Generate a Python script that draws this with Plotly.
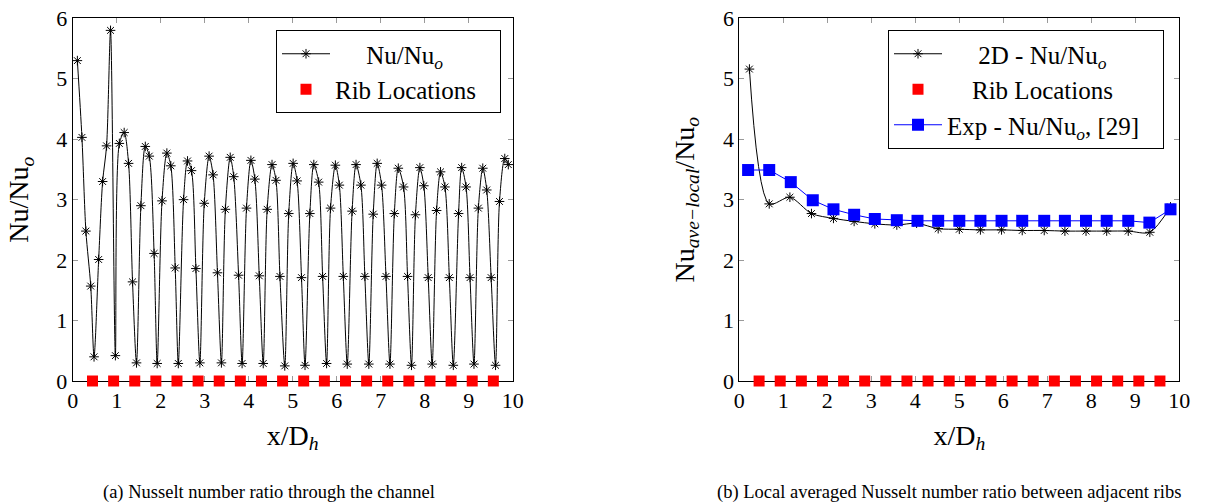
import plotly.graph_objects as go
from plotly.subplots import make_subplots

# ---- data: (a) Nusselt number ratio through the channel ----
x_a = [0.106, 0.21, 0.30, 0.41, 0.485, 0.59, 0.68, 0.77, 0.86, 0.97,
       1.06, 1.17, 1.27, 1.36, 1.45, 1.55, 1.65, 1.74, 1.85, 1.92,
       2.03, 2.14, 2.23, 2.33, 2.40, 2.52, 2.61, 2.70, 2.80, 2.89,
       2.99, 3.10, 3.19, 3.29, 3.38, 3.47, 3.58, 3.66, 3.77, 3.85,
       3.95, 4.05, 4.14, 4.24, 4.33, 4.42, 4.53, 4.62, 4.71, 4.82,
       4.91, 5.01, 5.10, 5.20, 5.28, 5.39, 5.48, 5.59, 5.68, 5.77,
       5.86, 5.97, 6.06, 6.15, 6.24, 6.35, 6.44, 6.55, 6.64, 6.73,
       6.83, 6.92, 7.02, 7.12, 7.21, 7.31, 7.40, 7.52, 7.61, 7.70,
       7.79, 7.89, 7.98, 8.08, 8.17, 8.27, 8.36, 8.46, 8.56, 8.65,
       8.77, 8.84, 8.94, 9.03, 9.12, 9.22, 9.32, 9.41, 9.51, 9.61,
       9.70, 9.82, 9.90]
nu_a = [5.30, 4.03, 2.48, 1.57, 0.40, 2.01, 3.30, 3.89, 5.80, 0.42,
        3.93, 4.11, 3.60, 1.64, 0.30, 2.90, 3.88, 3.72, 2.11, 0.29,
        2.98, 3.77, 3.56, 1.87, 0.29, 3.00, 3.64, 3.48, 1.86, 0.30,
        2.94, 3.72, 3.41, 1.79, 0.30, 2.84, 3.70, 3.38, 1.75, 0.29,
        2.86, 3.65, 3.34, 1.74, 0.29, 2.84, 3.58, 3.32, 1.73, 0.25,
        2.77, 3.60, 3.31, 1.71, 0.26, 2.77, 3.58, 3.29, 1.73, 0.29,
        2.86, 3.57, 3.24, 1.73, 0.28, 2.81, 3.58, 3.24, 1.73, 0.28,
        2.76, 3.60, 3.24, 1.73, 0.28, 2.77, 3.52, 3.21, 1.73, 0.26,
        2.75, 3.53, 3.23, 1.71, 0.28, 2.82, 3.46, 3.21, 1.71, 0.26,
        2.77, 3.53, 3.21, 1.71, 0.28, 2.86, 3.52, 3.16, 1.71, 0.26,
        2.97, 3.68, 3.58]

rib_x = [0.45, 0.93, 1.41, 1.89, 2.37, 2.85, 3.33, 3.81, 4.29, 4.77,
         5.25, 5.72, 6.20, 6.68, 7.16, 7.64, 8.12, 8.60, 9.08, 9.56]
rib_y = [0] * len(rib_x)

# ---- data: (b) Local averaged Nusselt number ratio ----
x_2d = [0.23, 0.68, 1.15, 1.64, 2.14, 2.61, 3.08, 3.58, 4.03, 4.52, 5.00,
        5.48, 5.96, 6.43, 6.93, 7.40, 7.88, 8.35, 8.84, 9.33, 9.80]
nu_2d = [5.16, 2.93, 3.04, 2.77, 2.69, 2.64, 2.60, 2.58, 2.61, 2.52, 2.51,
         2.50, 2.50, 2.49, 2.49, 2.48, 2.48, 2.48, 2.48, 2.46, 2.88]
x_exp = [0.20, 0.68, 1.17, 1.67, 2.14, 2.61, 3.08, 3.58, 4.05, 4.52, 5.00,
         5.48, 5.96, 6.43, 6.93, 7.40, 7.88, 8.35, 8.84, 9.32, 9.80]
nu_exp = [3.49, 3.49, 3.29, 2.99, 2.84, 2.75, 2.68, 2.66, 2.65, 2.65, 2.65,
          2.65, 2.65, 2.65, 2.65, 2.65, 2.65, 2.65, 2.65, 2.62, 2.84]

x_ticks = list(range(0, 11))
y_ticks = list(range(0, 7))
caption_a = "(a) Nusselt number ratio through the channel"
caption_b = "(b) Local averaged Nusselt number ratio between adjacent ribs"

FONT = "Liberation Serif"
NB = "\u00a0"
W, H = 1207, 504

fig = make_subplots(rows=1, cols=2)

star = dict(symbol="asterisk-open", size=8, color="black", line=dict(width=1, color="black"))
rib_marker = dict(symbol="square", size=11, color="#ff0000", line=dict(width=0))

fig.add_trace(go.Scatter(x=x_a, y=nu_a, mode="lines+markers",
                         name=NB * 5 + "Nu/Nu<sub><i>o</i></sub>",
                         line=dict(color="black", width=1, shape="spline", smoothing=0.8),
                         marker=star, legend="legend", cliponaxis=False), row=1, col=1)
fig.add_trace(go.Scatter(x=rib_x, y=rib_y, mode="markers", name="Rib Locations" + NB * 3,
                         marker=rib_marker, legend="legend", cliponaxis=False), row=1, col=1)

fig.add_trace(go.Scatter(x=x_2d, y=nu_2d, mode="lines+markers",
                         name=NB * 5 + "2D - Nu/Nu<sub><i>o</i></sub>",
                         line=dict(color="black", width=1, shape="spline", smoothing=0.8),
                         marker=star, legend="legend2", cliponaxis=False), row=1, col=2)
fig.add_trace(go.Scatter(x=rib_x, y=rib_y, mode="markers", name=NB * 4 + "Rib Locations",
                         marker=rib_marker, legend="legend2", cliponaxis=False), row=1, col=2)
fig.add_trace(go.Scatter(x=x_exp, y=nu_exp, mode="lines+markers",
                         name="Exp - Nu/Nu<sub><i>o</i></sub>, [29]" + NB * 3,
                         line=dict(color="#0000ff", width=1),
                         marker=dict(symbol="square", size=12, color="#0000ff"),
                         legend="legend2", cliponaxis=False), row=1, col=2)

axis_common = dict(showgrid=False, zeroline=False, showline=True, linecolor="black",
                   linewidth=1, mirror="ticks", ticks="inside", ticklen=5,
                   tickcolor="#9a9a9a", tickwidth=1, layer="below traces",
                   tickfont=dict(family=FONT, size=22, color="black"), automargin=False)
title_font = dict(family=FONT, size=28, color="black")

fig.update_xaxes(range=[0, 10], tickvals=x_ticks, **axis_common)
fig.update_yaxes(range=[0, 6], tickvals=y_ticks, **axis_common)

fig.update_xaxes(domain=[72.7 / W, 512.7 / W], row=1, col=1,
                 title=dict(text="x/D<sub><i>h</i></sub>", font=title_font, standoff=12))
fig.update_xaxes(domain=[739.3 / W, 1179.3 / W], row=1, col=2,
                 title=dict(text="x/D<sub><i>h</i></sub>", font=title_font, standoff=12))
fig.update_yaxes(domain=[1 - 381 / H, 1 - 18.3 / H], row=1, col=1,
                 title=dict(text="Nu/Nu<sub><i>o</i></sub>", font=title_font, standoff=19))
fig.update_yaxes(domain=[1 - 381 / H, 1 - 18.3 / H], row=1, col=2,
                 title=dict(text="Nu<sub><i>ave\u2212local</i></sub>/Nu<sub><i>o</i></sub>",
                            font=title_font, standoff=20))

legend_common = dict(xanchor="left", yanchor="top", bgcolor="white", bordercolor="black",
                     borderwidth=1, font=dict(family=FONT, size=25, color="black"),
                     itemwidth=48, tracegroupgap=0)
cap_font = dict(family=FONT, size=18.5, color="black")
fig.update_layout(
    width=W, height=H,
    margin=dict(l=0, r=0, t=0, b=0, autoexpand=False),
    paper_bgcolor="white", plot_bgcolor="white",
    font=dict(family=FONT, color="black"),
    legend=dict(x=276 / W, y=1 - 30 / H, **legend_common),
    legend2=dict(x=888 / W, y=1 - 30 / H, **legend_common),
    annotations=[
        dict(text=caption_a, x=269 / W, y=1 - 492 / H, xref="paper", yref="paper",
             showarrow=False, font=cap_font, xanchor="center", yanchor="middle"),
        dict(text=caption_b, x=949 / W, y=1 - 492 / H, xref="paper", yref="paper",
             showarrow=False, font=cap_font, xanchor="center", yanchor="middle"),
    ],
)

fig.write_html("out.html", config={"displayModeBar": False},
               post_script="document.body.style.margin='0px';document.body.style.overflow='hidden';")
